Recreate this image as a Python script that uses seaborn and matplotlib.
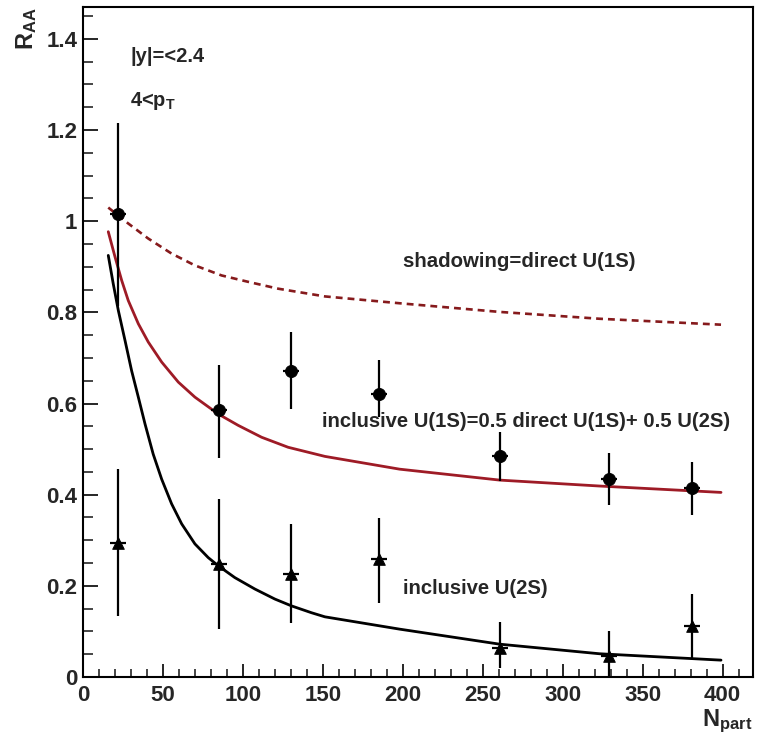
import numpy as np
import pandas as pd
import matplotlib
matplotlib.use("Agg")
import matplotlib.pyplot as plt
import seaborn as sns
from matplotlib.ticker import MultipleLocator, FuncFormatter

# ---- data ----
npart = [22, 85, 130, 185, 261, 329, 381]
raa_1s = [1.015, 0.585, 0.672, 0.620, 0.484, 0.434, 0.415]
raa_1s_lo = [0.815, 0.481, 0.588, 0.570, 0.431, 0.378, 0.356]
raa_1s_hi = [1.215, 0.684, 0.757, 0.695, 0.537, 0.491, 0.471]
raa_2s = [0.295, 0.248, 0.227, 0.259, 0.064, 0.046, 0.112]
raa_2s_lo = [0.134, 0.105, 0.119, 0.163, 0.019, 0.000, 0.042]
raa_2s_hi = [0.456, 0.390, 0.336, 0.349, 0.121, 0.100, 0.183]

direct_x = [15.8, 28.3, 40.8, 55.4, 70, 86.7, 103.3, 122, 151.3, 198, 260.6, 323, 399]
direct_y = [1.030, 0.995, 0.962, 0.929, 0.903, 0.881, 0.867, 0.852, 0.835, 0.820, 0.801, 0.786, 0.773]

incl1s_x = [15.8, 20, 24.2, 28.3, 34.6, 40.8, 49.2, 59.6, 70, 84.6, 97.1, 111.7, 128.3,
            151.3, 198, 260.6, 323, 399]
incl1s_y = [0.977, 0.922, 0.870, 0.826, 0.775, 0.735, 0.691, 0.647, 0.614, 0.577, 0.552,
            0.526, 0.504, 0.484, 0.456, 0.432, 0.419, 0.405]

incl2s_x = [15.8, 18.9, 22.1, 26.3, 30.4, 34.6, 38.8, 43.9, 49.2, 55.4, 61.7, 70, 78.3,
            84.6, 95, 107.5, 120, 130.4, 142.9, 151.3, 198, 260.6, 323, 399]
incl2s_y = [0.925, 0.863, 0.804, 0.738, 0.672, 0.614, 0.555, 0.489, 0.434, 0.380, 0.336,
            0.292, 0.262, 0.244, 0.218, 0.193, 0.171, 0.156, 0.141, 0.132, 0.105, 0.072,
            0.051, 0.037]

x_ticks = [0, 50, 100, 150, 200, 250, 300, 350, 400]
y_ticks = [0, 0.2, 0.4, 0.6, 0.8, 1.0, 1.2, 1.4]

# ---- style ----
sns.set_style("white")
plt.rcParams['font.family'] = ['Liberation Sans', 'DejaVu Sans']
plt.rcParams['font.weight'] = 'bold'
plt.rcParams['axes.labelweight'] = 'bold'
plt.rcParams['mathtext.fontset'] = 'custom'
plt.rcParams['mathtext.rm'] = 'Liberation Sans:bold'
plt.rcParams['mathtext.it'] = 'Liberation Sans:bold'
plt.rcParams['mathtext.bf'] = 'Liberation Sans:bold'

fig = plt.figure(figsize=(7.63, 7.46), dpi=100)
ax = fig.add_axes([83 / 763, 1 - 677 / 746, 670 / 763, 670 / 746])

df_direct = pd.DataFrame({"x": direct_x, "y": direct_y})
df_1s = pd.DataFrame({"x": incl1s_x, "y": incl1s_y})
df_2s = pd.DataFrame({"x": incl2s_x, "y": incl2s_y})

sns.lineplot(data=df_direct, x="x", y="y", ax=ax, color="#861a1c", lw=1.9,
             linestyle=(0, (2.6, 1.9)), sort=False)
sns.lineplot(data=df_1s, x="x", y="y", ax=ax, color="#9e1b26", lw=2.0, sort=False)
sns.lineplot(data=df_2s, x="x", y="y", ax=ax, color="black", lw=2.0, sort=False)

# error bars
a1 = np.array(raa_1s)
ax.errorbar(npart, raa_1s, yerr=[a1 - np.array(raa_1s_lo), np.array(raa_1s_hi) - a1],
            xerr=5, fmt='none', ecolor='black', elinewidth=1.6, capsize=0, zorder=4)
a2 = np.array(raa_2s)
ax.errorbar(npart, raa_2s, yerr=[a2 - np.array(raa_2s_lo), np.array(raa_2s_hi) - a2],
            xerr=5, fmt='none', ecolor='black', elinewidth=1.6, capsize=0, zorder=4)

df_p1 = pd.DataFrame({"x": npart, "y": raa_1s})
df_p2 = pd.DataFrame({"x": npart, "y": raa_2s})
sns.scatterplot(data=df_p1, x="x", y="y", ax=ax, marker="o", s=75, color="black",
                edgecolor="black", zorder=5)
sns.scatterplot(data=df_p2, x="x", y="y", ax=ax, marker="^", s=70, color="black",
                edgecolor="black", zorder=5)

ax.set_xlim(0, 419)
ax.set_ylim(0, 1.47)
ax.set_xticks(x_ticks)
ax.set_yticks(y_ticks)
ax.xaxis.set_minor_locator(MultipleLocator(10))
ax.yaxis.set_minor_locator(MultipleLocator(0.05))
ax.yaxis.set_major_formatter(FuncFormatter(lambda v, p: "%g" % round(v, 2)))
ax.xaxis.set_major_formatter(FuncFormatter(lambda v, p: "%g" % v))

ax.tick_params(axis='y', which='major', direction='in', length=11, width=1.4,
               labelsize=16, pad=4, left=True, right=False)
ax.tick_params(axis='y', which='minor', direction='in', length=7, width=1.2,
               left=True, right=False)
ax.tick_params(axis='x', which='major', direction='in', length=9.5, width=1.4,
               labelsize=16, pad=6, bottom=True, top=False)
ax.tick_params(axis='x', which='minor', direction='in', length=6, width=1.2,
               bottom=True, top=False)
for lab in ax.get_xticklabels() + ax.get_yticklabels():
    lab.set_fontweight('bold')

for sp in ax.spines.values():
    sp.set_visible(True)
    sp.set_linewidth(1.5)
    sp.set_color('black')

ax.set_ylabel("R$_{AA}$", fontsize=17, fontweight='bold', loc='top', rotation=90)
ax.yaxis.set_label_coords(-0.066, 1.0)
ax.set_xlabel("N$_{part}$", fontsize=17, fontweight='bold', loc='right')
ax.xaxis.set_label_coords(0.9985, -0.045)

ax.text(29.4, 1.350, "|y|=<2.4", fontsize=14.5, fontweight='bold', va='baseline')
ax.text(29.4, 1.252, "4<p$_{T}$", fontsize=14.5, fontweight='bold', va='baseline')
ax.text(200, 0.899, "shadowing=direct U(1S)", fontsize=14.7, fontweight='bold', va='baseline')
ax.text(149.4, 0.548, "inclusive U(1S)=0.5 direct U(1S)+ 0.5 U(2S)", fontsize=14.6,
        fontweight='bold', va='baseline')
ax.text(200, 0.182, "inclusive U(2S)", fontsize=14.6, fontweight='bold', va='baseline')

fig.savefig("out.png", dpi=100)
